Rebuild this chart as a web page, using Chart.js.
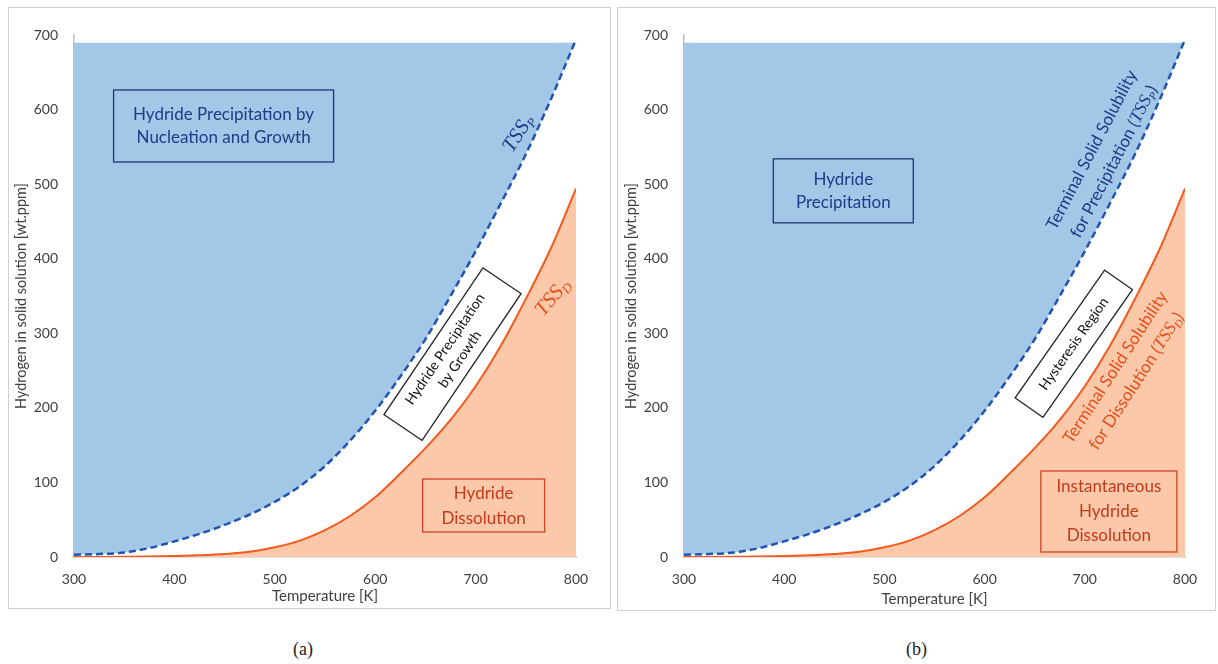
<!DOCTYPE html>
<html lang="en">
<head>
<meta charset="UTF-8" />
<title>Terminal solid solubility of hydrogen</title>
<script src="https://cdn.jsdelivr.net/npm/chart.js@4.4.0/dist/chart.umd.min.js"></script>
<style>
body { margin: 0; background: #fff; width: 1218px; height: 664px; position: relative; overflow: hidden; }
.panel { position: absolute; top: 7px; border: 1px solid #d0d0d0; box-sizing: border-box; }
#pa { left: 8px; width: 603px; height: 602px; }
#pb { left: 617px; width: 599px; height: 604px; }
.cap { position: absolute; top: 639px; font: 18px "Liberation Serif", serif; color: #222; }
</style>
</head>
<body>
<div class="panel" id="pa"><canvas id="ca" width="601" height="600"></canvas></div>
<div class="panel" id="pb"><canvas id="cb" width="597" height="602"></canvas></div>
<div class="cap" style="left:293px">(a)</div>
<div class="cap" style="left:906px">(b)</div>
<script>
// temperature [K] and hydrogen in solid solution [wt.ppm]
var temps = [300, 325, 350, 375, 400, 425, 450, 475, 500, 525, 550, 575, 600, 625, 650, 675, 700, 725, 750, 775, 800];
var tssP = [3, 4, 6, 12, 21, 31, 43, 57, 74, 95, 122, 156, 196, 242, 292, 350, 410, 474, 540, 614, 694];
var tssD = [0, 0.1, 0.3, 0.6, 1.2, 2.3, 4, 7, 13, 22, 36, 55, 80, 112, 146, 184, 229, 283, 346, 414, 494];
var capTop = [690, 690, 690, 690, 690, 690, 690, 690, 690, 690, 690, 690, 690, 690, 690, 690, 690, 690, 690, 690, 690];
var xTicks = [300, 400, 500, 600, 700, 800];
var yTicks = [0, 100, 200, 300, 400, 500, 600, 700];

var SANS = 'Lato, "Open Sans", sans-serif';
var SERIF = '"Liberation Serif", serif';
var TICK = '#404040';
var NAVY = '#1F3B87', NAVY_BOX = '#1d3573';
var RED_TXT = '#C43A1A', RED_BOX = '#CF4525', ORANGE_LBL = '#E4501D';

function pts(vals) {
    return temps.map(function (t, i) { return { x: t, y: vals[i] }; });
}

function tss(sub, size) {
    return [
        { t: 'TSS', f: 'italic ' + size + 'px ' + SERIF },
        { t: sub, f: 'italic ' + Math.round(size * 0.62) + 'px ' + SERIF, dy: size * 0.28 }
    ];
}

function drawLine(ctx, line, y, size) {
    var runs = typeof line === 'string' ? [{ t: line }] : line;
    var w = 0;
    runs.forEach(function (r) {
        r.font = r.f || (size + 'px ' + SANS);
        ctx.font = r.font;
        r.w = ctx.measureText(r.t).width;
        w += r.w;
    });
    var x = -w / 2;
    runs.forEach(function (r) {
        ctx.font = r.font;
        ctx.fillText(r.t, x, y + (r.dy || 0));
        x += r.w;
    });
}

function makeChart(id, notes, pad, xh) {
    var notesPlugin = {
        id: 'notes',
        afterDatasetsDraw: function (chart) {
            var ctx = chart.ctx, sx = chart.scales.x, sy = chart.scales.y;
            notes.forEach(function (n) {
                ctx.save();
                ctx.translate(sx.getPixelForValue(n.at[0]), sy.getPixelForValue(n.at[1]));
                ctx.rotate((n.angle || 0) * Math.PI / 180);
                if (n.box) {
                    ctx.strokeStyle = n.border;
                    ctx.lineWidth = 1.3;
                    ctx.strokeRect(-n.box[0] / 2, -n.box[1] / 2, n.box[0], n.box[1]);
                }
                ctx.fillStyle = n.color;
                ctx.textBaseline = 'middle';
                ctx.textAlign = 'left';
                n.lines.forEach(function (ln, i) {
                    drawLine(ctx, ln, (i - (n.lines.length - 1) / 2) * n.lh, n.size);
                });
                ctx.restore();
            });
        }
    };

    return new Chart(document.getElementById(id), {
        type: 'line',
        data: {
            datasets: [{
                label: 'TSSp',
                data: pts(tssP),
                borderColor: '#2153B3',
                borderWidth: 2.5,
                borderDash: [7, 4],
                pointRadius: 0,
                cubicInterpolationMode: 'monotone',
                fill: { target: 2, above: 'rgba(0,0,0,0)', below: '#A3C7E7' }
            }, {
                label: 'TSSd',
                data: pts(tssD),
                borderColor: '#F35A1D',
                borderWidth: 2,
                pointRadius: 0,
                cubicInterpolationMode: 'monotone',
                fill: 'origin',
                backgroundColor: '#FBC8A9'
            }, {
                label: 'top',
                data: pts(capTop),
                borderColor: 'rgba(0,0,0,0)',
                borderWidth: 0,
                pointRadius: 0,
                fill: false
            }]
        },
        options: {
            responsive: false,
            animation: false,
            layout: { padding: pad },
            plugins: { legend: { display: false }, tooltip: { enabled: false } },
            scales: {
                x: {
                    type: 'linear', min: 300, max: 800,
                    grid: { display: false, drawTicks: false },
                    border: { display: true, color: '#BFBFBF', width: 1.5 },
                    afterBuildTicks: function (s) { s.ticks = xTicks.map(function (v) { return { value: v }; }); },
                    ticks: { padding: 14, color: TICK, font: { family: SANS, size: 14 } },
                    title: { display: true, text: 'Temperature [K]', color: TICK, font: { family: SANS, size: 15 }, padding: 0 },
                    afterFit: function (s) { s.height = xh; }
                },
                y: {
                    min: 0, max: 700,
                    grid: { display: false, drawTicks: false },
                    border: { display: true, color: '#BFBFBF', width: 1.5 },
                    afterBuildTicks: function (s) { s.ticks = yTicks.map(function (v) { return { value: v }; }); },
                    ticks: { padding: 16, color: TICK, font: { family: SANS, size: 14 } },
                    title: { display: true, text: 'Hydrogen in solid solution [wt.ppm]', color: TICK, font: { family: SANS, size: 14.5 }, padding: 0 },
                    afterFit: function (s) { s.width = 61; }
                }
            }
        },
        plugins: [notesPlugin]
    });
}

makeChart('ca', [
    { at: [449, 578], box: [220, 72], border: NAVY_BOX, color: NAVY, size: 17, lh: 23,
      lines: ['Hydride Precipitation by', 'Nucleation and Growth'] },
    { at: [743, 568], angle: -57, color: NAVY, size: 21, lh: 20, lines: [tss('P', 21)] },
    { at: [777, 348], angle: -50, color: ORANGE_LBL, size: 21, lh: 20, lines: [tss('D', 21)] },
    { at: [677, 272], angle: -56, box: [177, 46], border: '#222', color: '#111', size: 14, lh: 18,
      lines: ['Hydride Precipitation', 'by Growth'] },
    { at: [708, 69], box: [122, 53], border: RED_BOX, color: RED_TXT, size: 17, lh: 25,
      lines: ['Hydride', 'Dissolution'] }
], { left: 4, right: 34, top: 27, bottom: 3 }, 48);

makeChart('cb', [
    { at: [459, 491], box: [140, 64], border: NAVY_BOX, color: NAVY, size: 17, lh: 23,
      lines: ['Hydride', 'Precipitation'] },
    { at: [718, 538], angle: -62.5, color: NAVY, size: 17, lh: 25,
      lines: ['Terminal Solid Solubility', [{ t: 'for Precipitation (' }].concat(tss('P', 18), [{ t: ')' }])] },
    { at: [689, 286], angle: -55, box: [156, 34], border: '#222', color: '#111', size: 14, lh: 18,
      lines: ['Hysteresis Region'] },
    { at: [741, 245], angle: -57, color: ORANGE_LBL, size: 17, lh: 25,
      lines: ['Terminal Solid Solubility', [{ t: 'for Dissolution (' }].concat(tss('D', 18), [{ t: ')' }])] },
    { at: [724, 61], box: [136, 81], border: RED_BOX, color: RED_TXT, size: 17, lh: 24.5,
      lines: ['Instantaneous', 'Hydride', 'Dissolution'] }
], { left: 5, right: 30, top: 27, bottom: 2 }, 51);
</script>
</body>
</html>
